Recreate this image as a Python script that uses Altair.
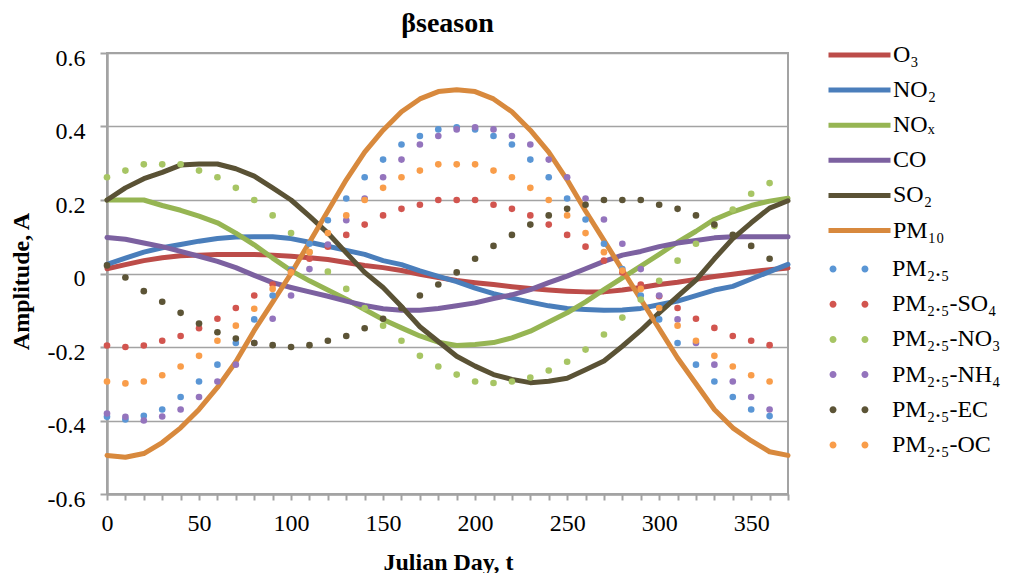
import altair as alt
import pandas as pd

# ---------------- data ----------------
line_days = list(range(0, 371, 10))   # 0..370
dot_days = list(range(0, 361, 10))    # 0..360

line_names = ["O₃", "NO₂", "NOₓ", "CO", "SO₂", "PM₁₀"]
line_colors = ["#BC4C49", "#4A7EBB", "#96B553", "#7C61A0", "#5A5235", "#D8893D"]

o3 = [0.013, 0.024, 0.035, 0.043, 0.048, 0.05, 0.052, 0.052, 0.052, 0.05,
      0.047, 0.043, 0.038, 0.03, 0.022, 0.016, 0.008, -0.002, -0.011, -0.019,
      -0.025, -0.03, -0.036, -0.041, -0.045, -0.048, -0.05, -0.05, -0.045, -0.038,
      -0.03, -0.024, -0.016, -0.008, -0.002, 0.005, 0.01, 0.015]
no2 = [0.025, 0.042, 0.058, 0.07, 0.079, 0.088, 0.095, 0.099, 0.1, 0.1,
       0.095, 0.085, 0.074, 0.063, 0.052, 0.035, 0.024, 0.007, -0.008, -0.022,
       -0.04, -0.055, -0.067, -0.078, -0.088, -0.095, -0.098, -0.1, -0.099, -0.095,
       -0.085, -0.075, -0.06, -0.045, -0.035, -0.015, 0.005, 0.025]
nox = [0.2, 0.2, 0.2, 0.185, 0.172, 0.156, 0.138, 0.11, 0.078, 0.042,
       0.008, -0.02, -0.045, -0.07, -0.098, -0.125, -0.148, -0.17, -0.187, -0.196,
       -0.193, -0.188, -0.175, -0.157, -0.132, -0.107, -0.077, -0.044, -0.012, 0.02,
       0.052, 0.085, 0.115, 0.147, 0.168, 0.185, 0.197, 0.205]
co = [0.098, 0.093, 0.083, 0.073, 0.06, 0.047, 0.033, 0.016, -0.005, -0.025,
      -0.038, -0.05, -0.062, -0.075, -0.087, -0.096, -0.1, -0.1, -0.095, -0.088,
      -0.08, -0.068, -0.058, -0.044, -0.025, -0.007, 0.013, 0.033, 0.05, 0.06,
      0.073, 0.083, 0.09, 0.097, 0.1, 0.1, 0.1, 0.1]
so2 = [0.2, 0.233, 0.258, 0.275, 0.295, 0.298, 0.298, 0.285, 0.265, 0.233,
       0.2, 0.156, 0.11, 0.056, 0.003, -0.038, -0.09, -0.145, -0.185, -0.225,
       -0.252, -0.275, -0.288, -0.297, -0.293, -0.285, -0.262, -0.238, -0.198, -0.155,
       -0.107, -0.062, -0.018, 0.04, 0.095, 0.138, 0.178, 0.198]
pm10 = [-0.495, -0.5, -0.49, -0.46, -0.42, -0.37, -0.31, -0.24, -0.155, -0.078,
        0.0, 0.085, 0.17, 0.255, 0.33, 0.39, 0.44, 0.475, 0.495, 0.5,
        0.495, 0.475, 0.44, 0.39, 0.33, 0.255, 0.17, 0.09, 0.01, -0.07,
        -0.15, -0.23, -0.3, -0.37, -0.42, -0.455, -0.485, -0.495]

dot_names = ["PM₂.₅", "PM₂.₅-SO₄", "PM₂.₅-NO₃", "PM₂.₅-NH₄", "PM₂.₅-EC", "PM₂.₅-OC"]
dot_colors = ["#5A96D5", "#D2554F", "#A7C564", "#9474BD", "#5C5436", "#F99D4A"]

pm25 = [-0.39, -0.397, -0.387, -0.37, -0.336, -0.294, -0.248, -0.189, -0.125, -0.06,
        0.011, 0.081, 0.145, 0.204, 0.262, 0.31, 0.351, 0.374, 0.392, 0.398,
        0.392, 0.374, 0.351, 0.31, 0.262, 0.204, 0.147, 0.081, 0.012, -0.06,
        -0.125, -0.189, -0.248, -0.294, -0.336, -0.37, -0.388]
so4 = [-0.196, -0.2, -0.196, -0.183, -0.17, -0.149, -0.123, -0.094, -0.06, -0.03,
       0.005, 0.04, 0.073, 0.105, 0.133, 0.158, 0.176, 0.187, 0.2, 0.2,
       0.2, 0.187, 0.176, 0.158, 0.133, 0.105, 0.073, 0.035, 0.003, -0.03,
       -0.062, -0.094, -0.123, -0.148, -0.17, -0.183, -0.195]
no3 = [0.262, 0.28, 0.297, 0.297, 0.297, 0.28, 0.262, 0.233, 0.2, 0.158,
       0.11, 0.058, 0.005, -0.042, -0.094, -0.142, -0.183, -0.224, -0.253, -0.275,
       -0.294, -0.298, -0.294, -0.283, -0.264, -0.24, -0.207, -0.166, -0.12, -0.071,
       -0.02, 0.035, 0.081, 0.129, 0.174, 0.217, 0.246]
nh4 = [-0.381, -0.39, -0.4, -0.389, -0.37, -0.336, -0.294, -0.248, -0.189, -0.123,
       -0.06, 0.012, 0.079, 0.145, 0.204, 0.262, 0.31, 0.351, 0.374, 0.392,
       0.398, 0.392, 0.374, 0.351, 0.31, 0.262, 0.204, 0.147, 0.081, 0.012,
       -0.06, -0.125, -0.189, -0.248, -0.294, -0.336, -0.37]
ec = [0.022, -0.011, -0.048, -0.077, -0.107, -0.136, -0.16, -0.177, -0.189, -0.195,
      -0.2, -0.195, -0.183, -0.17, -0.149, -0.123, -0.094, -0.06, -0.03, 0.003,
      0.04, 0.075, 0.105, 0.133, 0.158, 0.176, 0.187, 0.2, 0.2, 0.2,
      0.187, 0.176, 0.158, 0.133, 0.105, 0.075, 0.04]
oc = [-0.294, -0.299, -0.294, -0.277, -0.253, -0.224, -0.183, -0.142, -0.096, -0.042,
      0.003, 0.058, 0.11, 0.158, 0.2, 0.233, 0.262, 0.28, 0.297, 0.297,
      0.297, 0.28, 0.262, 0.233, 0.2, 0.158, 0.11, 0.058, 0.008, -0.042,
      -0.094, -0.142, -0.183, -0.224, -0.253, -0.277, -0.294]

x_ticks = line_days
y_ticks = [-0.6, -0.4, -0.2, 0.0, 0.2, 0.4, 0.6]

# ---------------- tables ----------------
line_rows = []
for i, (name, vals) in enumerate(zip(line_names, [o3, no2, nox, co, so2, pm10])):
    for d, v in zip(line_days, vals):
        line_rows.append({"series": name, "ord": i, "day": d, "amp": v})
line_df = pd.DataFrame(line_rows)

dot_rows = []
for i, (name, vals) in enumerate(zip(dot_names, [pm25, so4, no3, nh4, ec, oc])):
    for d, v in zip(dot_days, vals):
        dot_rows.append({"series": name, "ord": i, "day": d, "amp": v})
dot_df = pd.DataFrame(dot_rows)

FONT = "Liberation Serif"
GRID = "#A3A3A3"

x_enc = alt.X(
    "day:Q",
    scale=alt.Scale(domain=[0, 370], nice=False, zero=False),
    axis=alt.Axis(
        values=x_ticks,
        labelExpr="datum.value % 50 == 0 ? datum.label : ''",
        labelOverlap=False, labelBound=False, labelFlush=False,
        grid=False, tickSize=6, tickColor=GRID, tickWidth=2,
        domainColor=GRID, domainWidth=2.5,
        labelFont=FONT, labelFontSize=24, labelColor="black",
        labelBaseline="alphabetic", labelPadding=30,
        title="Julian Day, t", titleFont=FONT, titleFontSize=24,
        titleFontWeight="bold", titleColor="black",
        titleX=341, titleY=75, titleBaseline="alphabetic",
    ),
)
y_enc = alt.Y(
    "amp:Q",
    scale=alt.Scale(domain=[-0.6, 0.6], nice=False),
    axis=alt.Axis(
        values=y_ticks,
        labelExpr="abs(datum.value) < 1e-9 ? '0' : (datum.value < 0 ? '-' + format(-datum.value, '.1f') : format(datum.value, '.1f'))",
        labelOverlap=False,
        grid=True, gridColor=GRID, gridWidth=1.5,
        tickSize=7, tickColor=GRID, tickWidth=2,
        domainColor=GRID, domainWidth=2.5,
        labelFont=FONT, labelFontSize=24, labelColor="black",
        labelBaseline="alphabetic", labelOffset=12, labelPadding=15,
        title="Amplitude, A", titleFont=FONT, titleFontSize=24,
        titleFontWeight="bold", titleColor="black",
        titleX=-79, titleY=228, titleAngle=-90, titleBaseline="alphabetic",
        titleAlign="center",
    ),
)

line_legend = alt.Legend(
    title=None, orient="none", legendX=719, legendY=-9,
    symbolType="stroke", symbolSize=3844, symbolStrokeWidth=5,
    clipHeight=22, rowPadding=11.1, padding=0, labelOffset=0,
    labelFont=FONT, labelFontSize=24, labelColor="black", labelLimit=250,
)

dots_path = ("M -0.983 0 A 0.113 0.113 0 1 1 -0.757 0 A 0.113 0.113 0 1 1 -0.983 0 Z "
             "M 0.047 0 A 0.113 0.113 0 1 1 0.273 0 A 0.113 0.113 0 1 1 0.047 0 Z")
dot_legend = alt.Legend(
    title=None, orient="none", legendX=722, legendY=205,
    symbolType=dots_path, symbolSize=3844, symbolStrokeWidth=0,
    symbolOpacity=1,
    clipHeight=22, rowPadding=11.2, padding=0, labelOffset=1,
    labelFont=FONT, labelFontSize=24, labelColor="black", labelLimit=250,
)

lines = alt.Chart(line_df).mark_line(strokeWidth=5, strokeCap="round", strokeJoin="round").encode(
    x=x_enc, y=y_enc,
    color=alt.Color("series:N", scale=alt.Scale(domain=line_names, range=line_colors),
                    legend=line_legend),
    order="day:Q",
)

dots = alt.Chart(dot_df).mark_circle(size=44, opacity=1).encode(
    x=x_enc, y=y_enc,
    color=alt.Color("series:N", scale=alt.Scale(domain=dot_names, range=dot_colors),
                    legend=dot_legend),
)

chart = alt.layer(lines, dots).resolve_scale(color="independent").properties(
    width=681, height=441,
    title=alt.TitleParams("βseason", font=FONT, fontSize=28, fontWeight="bold",
                          color="black", anchor="middle", offset=6),
    autosize=alt.AutoSizeParams(type="none"),
    padding={"left": 99, "top": 45, "right": 215, "bottom": 79},
    background="white",
).configure_view(stroke=GRID, strokeWidth=2).configure_axis(labelOverlap=False)

chart.save("out.html", embed_options={"renderer": "svg", "actions": False})
